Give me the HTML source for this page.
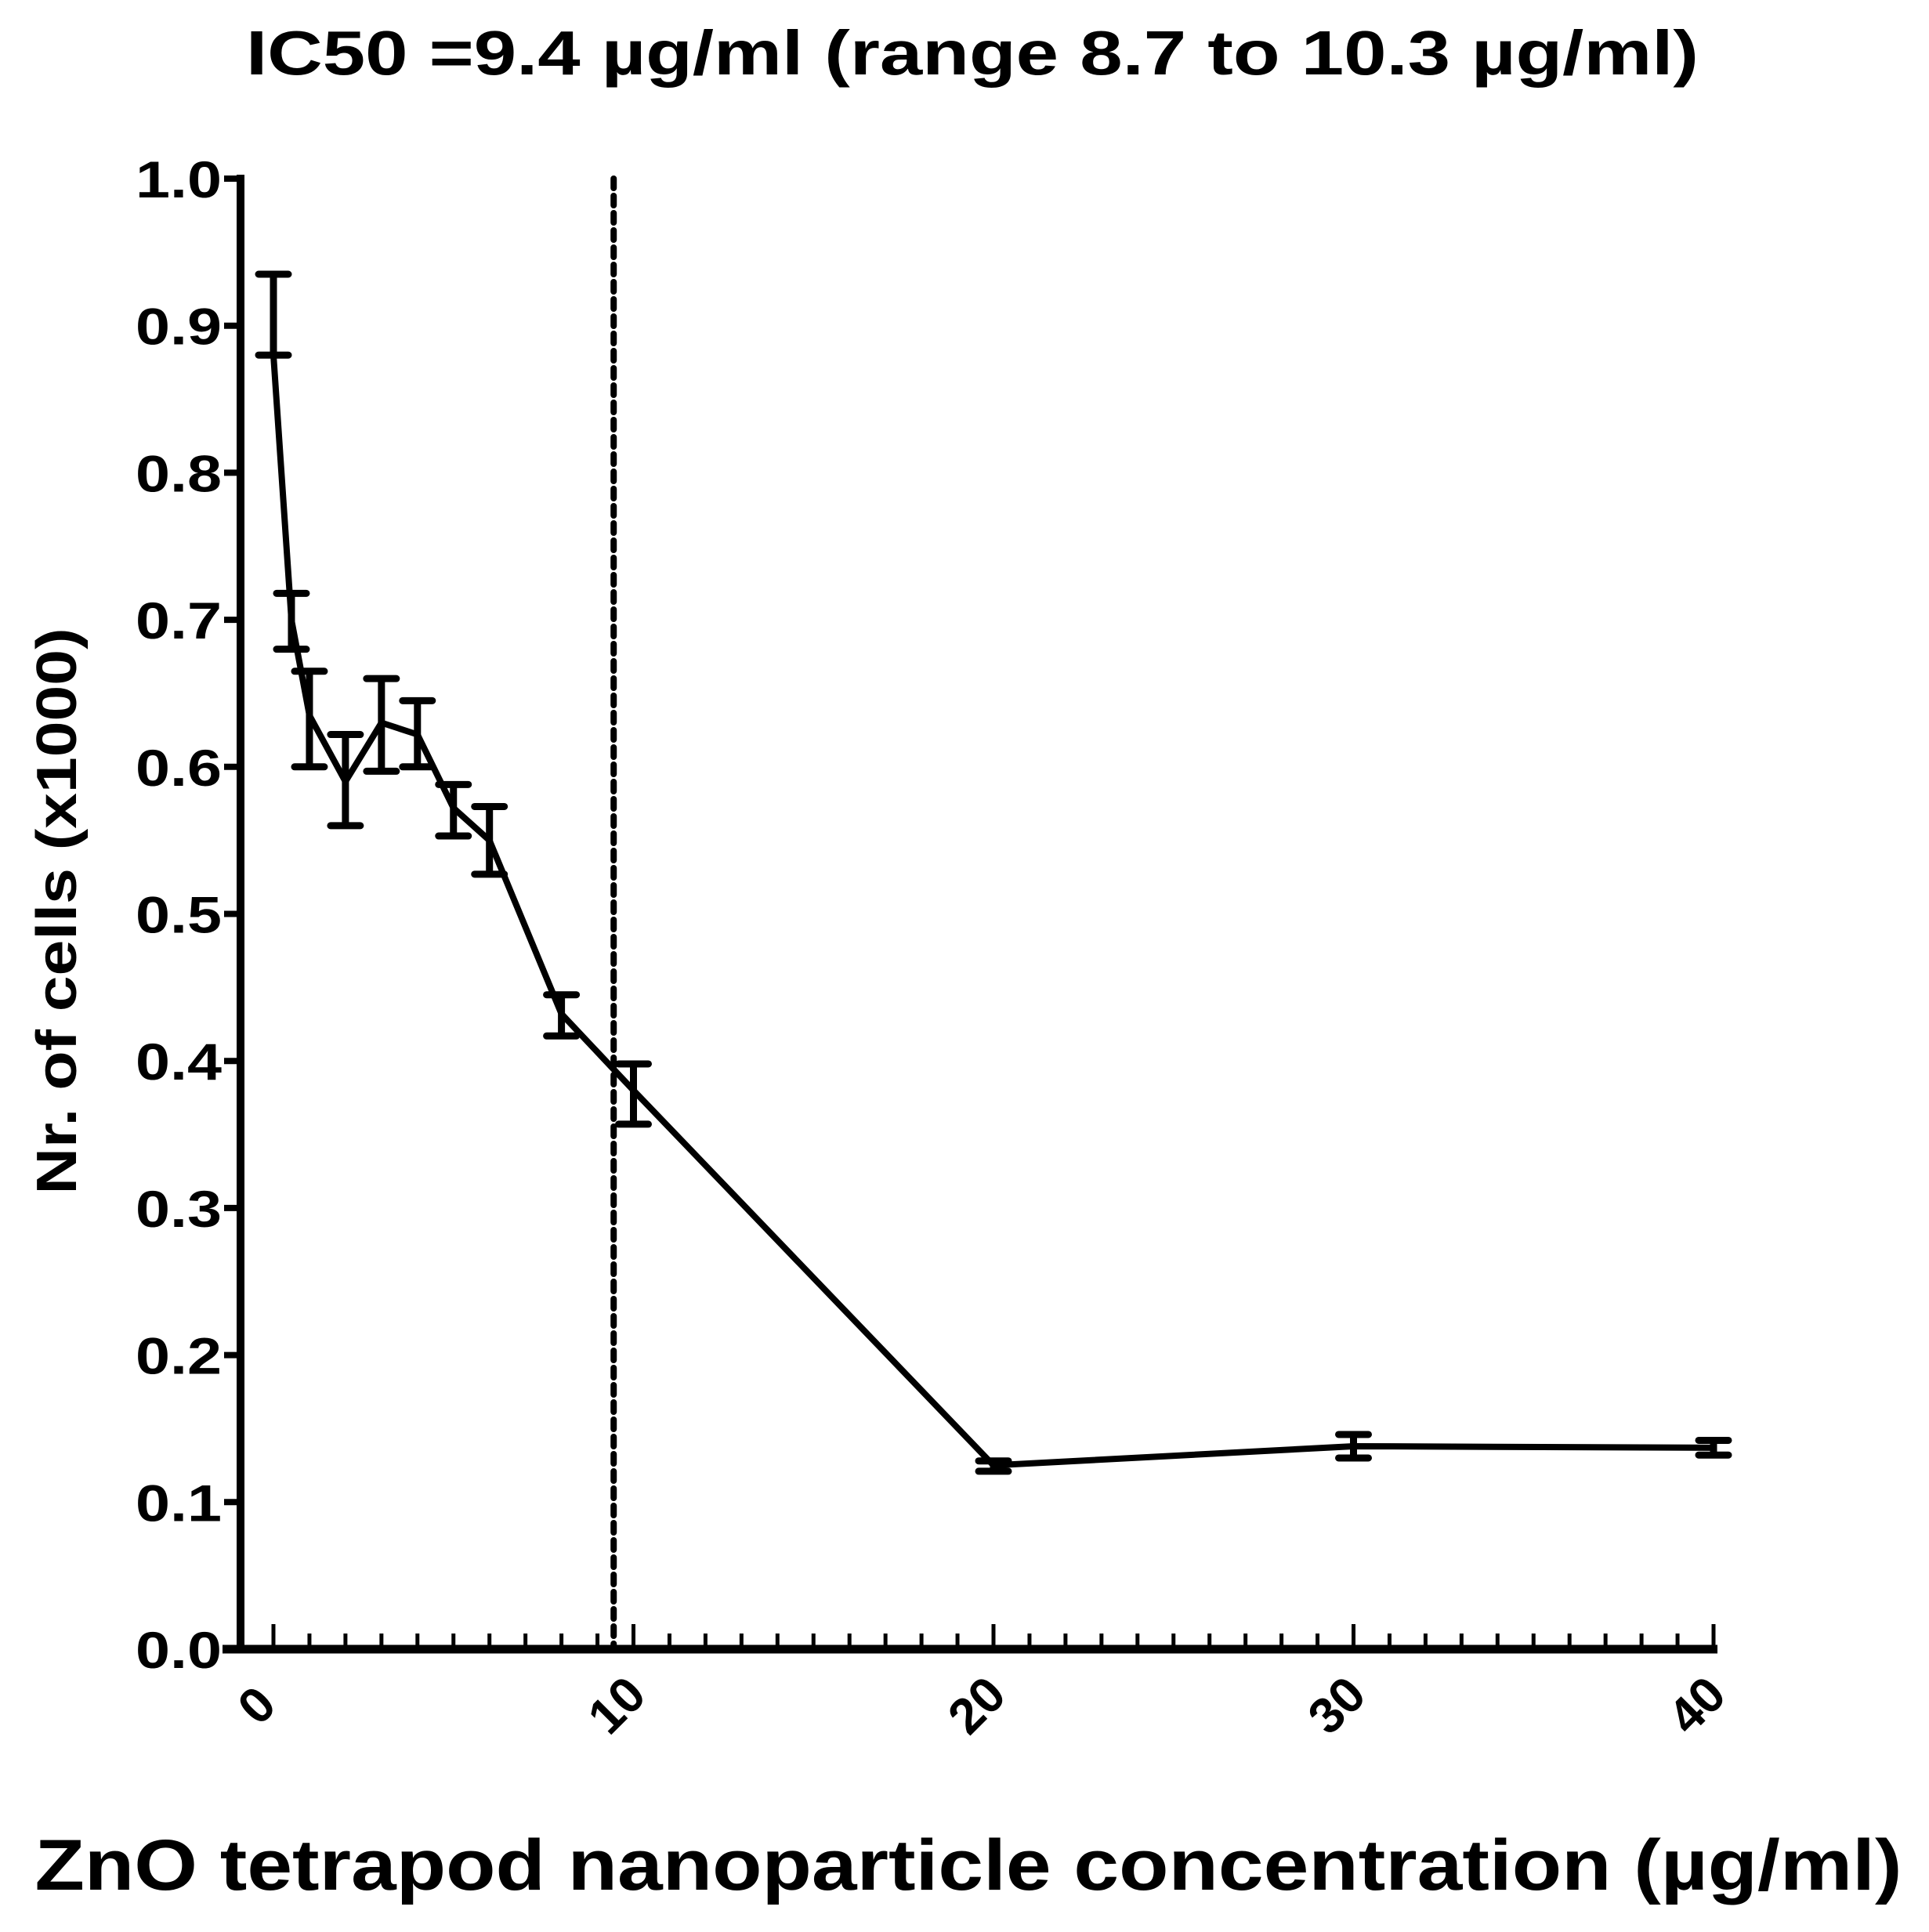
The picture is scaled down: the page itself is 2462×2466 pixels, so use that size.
<!DOCTYPE html>
<html><head><meta charset="utf-8"><style>
html,body{margin:0;padding:0;background:#fff;}
svg{display:block;}
</style></head><body>
<svg id="chart" width="2462" height="2466" viewBox="0 0 2462 2466" xmlns="http://www.w3.org/2000/svg">
<text x="1241" y="95" text-anchor="middle" font-family="Liberation Sans, sans-serif" font-weight="bold" font-size="80" textLength="1854" lengthAdjust="spacingAndGlyphs">IC50 =9.4 µg/ml (range 8.7 to 10.3 µg/ml)</text>
<text transform="translate(97,1163) rotate(-90)" text-anchor="middle" font-family="Liberation Sans, sans-serif" font-weight="bold" font-size="72" textLength="723" lengthAdjust="spacingAndGlyphs">Nr. of cells (x1000)</text>
<text x="1236" y="2412" text-anchor="middle" font-family="Liberation Sans, sans-serif" font-weight="bold" font-size="92" textLength="2383" lengthAdjust="spacingAndGlyphs">ZnO tetrapod nanoparticle concentration (µg/ml)</text>
<g id="plot"></g>
</svg>
<script>
const concentrations = [0, 0.5, 1, 2, 3, 4, 5, 6, 8, 10, 20, 30, 40];
const meanCells = [0.88, 0.70, 0.635, 0.59, 0.63, 0.622, 0.572, 0.55, 0.432, 0.38, 0.125, 0.138, 0.137];
const errLow = [0.88, 0.68, 0.60, 0.56, 0.597, 0.60, 0.553, 0.527, 0.417, 0.357, 0.121, 0.130, 0.132];
const errHigh = [0.935, 0.718, 0.665, 0.622, 0.66, 0.645, 0.588, 0.573, 0.445, 0.398, 0.128, 0.146, 0.142];
const yTicks = [0.0, 0.1, 0.2, 0.3, 0.4, 0.5, 0.6, 0.7, 0.8, 0.9, 1.0];
const xTicks = [0, 10, 20, 30, 40];
const ic50 = [9.45];

const NS = 'http://www.w3.org/2000/svg';
const g = document.getElementById('plot');
const X0 = 349, XS = 45.95;
const Y0 = 2105, YS = 1877;
function sx(v){ return X0 + v * XS; }
function sy(v){ return Y0 - v * YS; }
function mk(tag, attrs){ const e = document.createElementNS(NS, tag); for (const k in attrs) e.setAttribute(k, attrs[k]); g.appendChild(e); return e; }

let e = mk('line', {x1:307, y1:sy(1.0)-5, x2:307, y2:Y0+5, stroke:'#000', 'stroke-width':10});


yTicks.forEach(t => {
  let tk = mk('line', {x1:286, y1:sy(t), x2:307, y2:sy(t), stroke:'#000', 'stroke-width':8});
  
  
  let tx = mk('text', {x:283, y:sy(t)+24, 'text-anchor':'end', 'font-family':'Liberation Sans, sans-serif', 'font-weight':'bold', 'font-size':66, textLength:110, lengthAdjust:'spacingAndGlyphs'});
  tx.textContent = t.toFixed(1);
  
  
});
e = mk('line', {x1:284, y1:Y0, x2:sx(40)+5, y2:Y0, stroke:'#000', 'stroke-width':11});


for (let i = 0; i <= 40; i++) {
  const major = i % 10 === 0;
  let tk = mk('line', {x1:sx(i), y1:Y0, x2:sx(i), y2:Y0 - (major ? 32 : 20), stroke:'#000', 'stroke-width':5});
  
  
}
xTicks.forEach(t => {
  let tx = mk('text', {x:0, y:0, 'text-anchor':'middle', 'font-family':'Liberation Sans, sans-serif', 'font-weight':'bold', 'font-size':64, transform:'translate(' + (sx(t)-6) + ',' + 2192 + ') rotate(-45)'});
  tx.textContent = t;
  
  
});
e = mk('line', {x1:sx(ic50[0]), y1:sy(1.0), x2:sx(ic50[0]), y2:Y0, stroke:'#000', 'stroke-width':8, 'stroke-dasharray':'12 10', 'stroke-linecap':'round'});


const pts = concentrations.map((c,i) => sx(c) + ',' + sy(meanCells[i])).join(' ');
e = mk('polyline', {points:pts, fill:'none', stroke:'#000', 'stroke-width':8, 'stroke-linejoin':'round'});


concentrations.forEach((c,i) => {
  const x = sx(c);
  let b = mk('path', {d:'M'+x+','+sy(errLow[i])+'V'+sy(errHigh[i])+'M'+(x-19)+','+sy(errLow[i])+'H'+(x+19)+'M'+(x-19)+','+sy(errHigh[i])+'H'+(x+19), stroke:'#000', 'stroke-width':9, fill:'none', 'stroke-linecap':'round'});
  
  
});
</script>
</body></html>
